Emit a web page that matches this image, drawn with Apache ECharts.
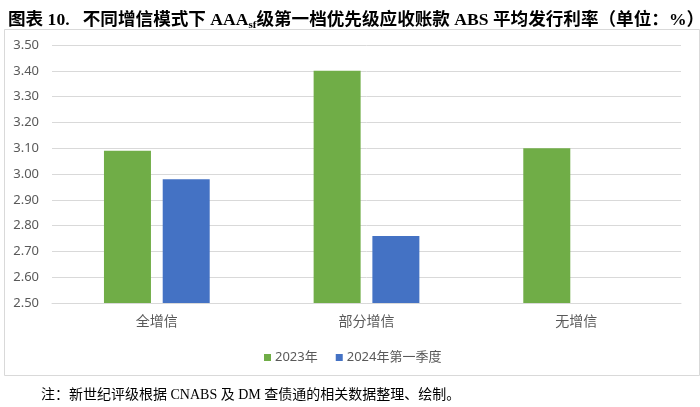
<!DOCTYPE html>
<html>
<head>
<meta charset="utf-8">
<script src="https://cdn.jsdelivr.net/npm/echarts@6/dist/echarts.min.js"></script>
<style>
html,body{margin:0;padding:0;background:#fff;}
#c{width:700px;height:407px;}
</style>
</head>
<body>
<div id="c"></div>
<script>
var categories = ['全增信', '部分增信', '无增信'];
var seriesNames = ['2023年', '2024年第一季度'];
var values2023 = [3.09, 3.40, 3.10];
var values2024Q1 = [2.98, 2.76, null];
var yTicks = { min: 2.5, max: 3.5, interval: 0.1 };

var serif = "'Liberation Serif', 'Noto Sans CJK SC'";
var sans = "'Noto Sans', 'Noto Sans CJK SC'";

var chart = echarts.init(document.getElementById('c'), null, { renderer: 'canvas' });
chart.setOption({
  animation: false,
  backgroundColor: '#fff',
  title: {
    left: 3,
    top: 4,
    text: '{b|图表 10.   不同增信模式下 AAA}{s|sf}{b|级第一档优先级应收账款 ABS 平均发行利率（单位：%）}',
    textStyle: {
      rich: {
        b: { fontFamily: serif, fontSize: 17.6, fontWeight: 'bold', color: '#000', lineHeight: 22 },
        s: { fontFamily: serif, fontSize: 11, fontWeight: 'bold', color: '#000', lineHeight: 17, verticalAlign: 'bottom' }
      }
    }
  },
  graphic: [
    {
      type: 'rect', left: 2, top: 27, silent: true,
      shape: { width: 695, height: 346 },
      style: { fill: 'none', stroke: '#d9d9d9', lineWidth: 1 }
    },
    {
      type: 'text', left: 41, top: 388,
      style: { text: '注：新世纪评级根据 CNABS 及 DM 查债通的相关数据整理、绘制。', font: '14px ' + serif, fill: '#000' }
    }
  ],
  legend: {
    left: 259, top: 346,
    itemWidth: 7, itemHeight: 7, itemGap: 18,
    icon: 'rect',
    textStyle: { fontFamily: sans, fontSize: 13, color: '#595959', padding: [0, 0, 0, -1] },
    data: seriesNames
  },
  grid: { left: 52, right: 19, top: 45, bottom: 104, containLabel: false },
  xAxis: {
    type: 'category',
    data: categories,
    axisLine: { lineStyle: { color: '#d9d9d9' } },
    axisTick: { show: false },
    axisLabel: { color: '#595959', fontFamily: sans, fontSize: 14, margin: 12 }
  },
  yAxis: {
    type: 'value',
    min: yTicks.min, max: yTicks.max, interval: yTicks.interval,
    axisLine: { show: false },
    axisTick: { show: false },
    splitLine: { lineStyle: { color: '#d9d9d9' } },
    axisLabel: {
      color: '#595959', fontFamily: sans, fontSize: 13, margin: 13,
      formatter: function (v) { return v.toFixed(2); }
    }
  },
  series: [
    { name: seriesNames[0], type: 'bar', data: values2023, barWidth: 47, barGap: '25%', itemStyle: { color: '#70AD47' } },
    { name: seriesNames[1], type: 'bar', data: values2024Q1, barWidth: 47, barGap: '25%', itemStyle: { color: '#4472C4' } }
  ]
});
</script>
</body>
</html>
